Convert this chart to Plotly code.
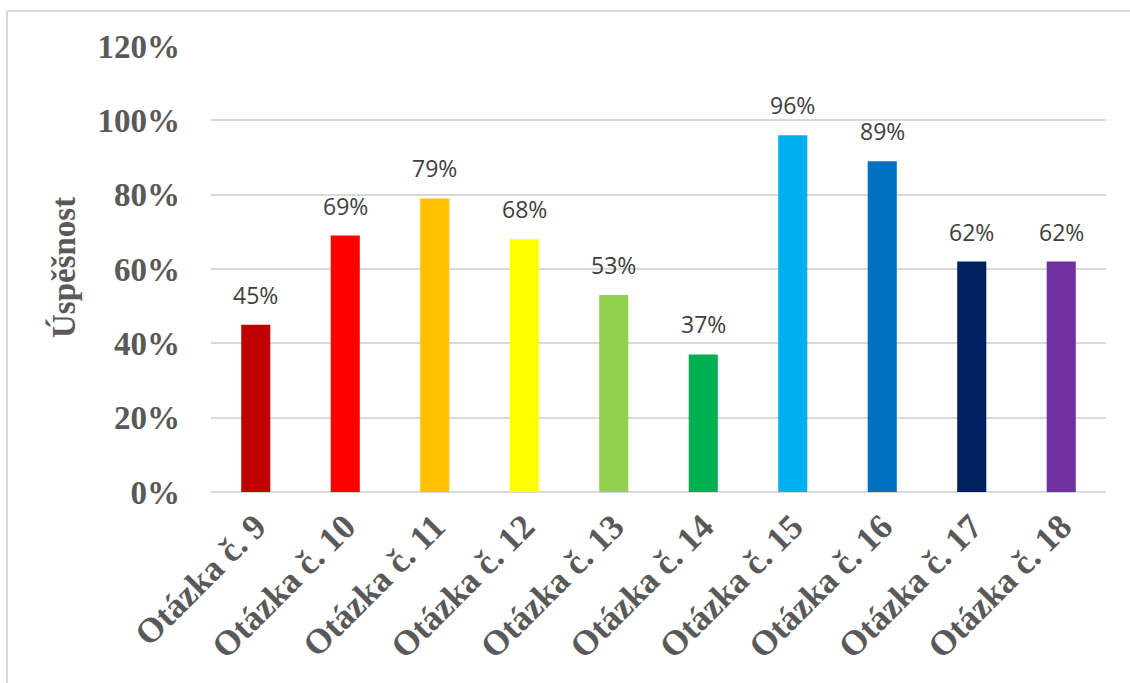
import plotly.graph_objects as go

# Success rate per question
questions = ["Otázka č. 9", "Otázka č. 10", "Otázka č. 11", "Otázka č. 12", "Otázka č. 13",
             "Otázka č. 14", "Otázka č. 15", "Otázka č. 16", "Otázka č. 17", "Otázka č. 18"]
success = [0.45, 0.69, 0.79, 0.68, 0.53, 0.37, 0.96, 0.89, 0.62, 0.62]
colors = ["#C00000", "#FF0000", "#FFC000", "#FFFF00", "#92D050",
          "#00B050", "#00B0F0", "#0070C0", "#002060", "#7030A0"]
y_ticks = [0, 0.2, 0.4, 0.6, 0.8, 1.0, 1.2]
y_tick_labels = ["0%", "20%", "40%", "60%", "80%", "100%", "120%"]

W, H = 1130, 683
L, R, T, B = 211, 24, 46, 191
pw, ph = W - L - R, H - T - B

grey = "#595959"
serif = "Liberation Serif, Times New Roman, serif"

fig = go.Figure()
fig.add_trace(go.Bar(
    x=questions, y=success,
    marker=dict(color=colors, line=dict(width=0)),
    hoverinfo="x+y",
))

# value labels above bars
for q, v in zip(questions, success):
    fig.add_annotation(
        x=q, y=v, xref="x", yref="y",
        text=f"{round(v * 100)}%", showarrow=False,
        yanchor="middle", yshift=30,
        font=dict(family="Open Sans, sans-serif", size=23, color="#404040"),
    )

# y-axis title
fig.add_annotation(
    x=(63 - L) / pw, y=(H - B - 268) / ph, xref="paper", yref="paper",
    text="<b>Úspěšnost</b>", textangle=-90, showarrow=False,
    xanchor="center", yanchor="middle",
    font=dict(family=serif, size=33, color=grey),
)

# chart-area frame (left and top edges)
fx = (7 - L) / pw
fy = (H - B - 11) / ph
frame = dict(color="#D9D9D9", width=2)
fig.add_shape(type="line", xref="paper", yref="paper", x0=fx, x1=fx, y0=fy, y1=-1.0, line=frame)
fig.add_shape(type="line", xref="paper", yref="paper", x0=fx, x1=1.2, y0=fy, y1=fy, line=frame)

fig.update_layout(
    width=W, height=H,
    margin=dict(l=L, r=R, t=T, b=B, autoexpand=False),
    paper_bgcolor="white", plot_bgcolor="white",
    bargap=0.675, showlegend=False,
    xaxis=dict(
        tickangle=-45, showgrid=False, showline=False, zeroline=False,
        tickfont=dict(family=serif, size=35, color=grey, weight="bold"),
        ticks="", ticklabelstandoff=6, automargin=False,
    ),
    yaxis=dict(
        range=[0, 1.2], tickvals=y_ticks, ticktext=y_tick_labels,
        showgrid=True, gridcolor="#D9D9D9", gridwidth=1.5,
        zeroline=True, zerolinecolor="#D9D9D9", zerolinewidth=1.5,
        showline=False, ticks="", ticklabelstandoff=30,
        tickfont=dict(family=serif, size=33, color=grey, weight="bold"),
        automargin=False,
    ),
)

fig.write_html("out.html")
